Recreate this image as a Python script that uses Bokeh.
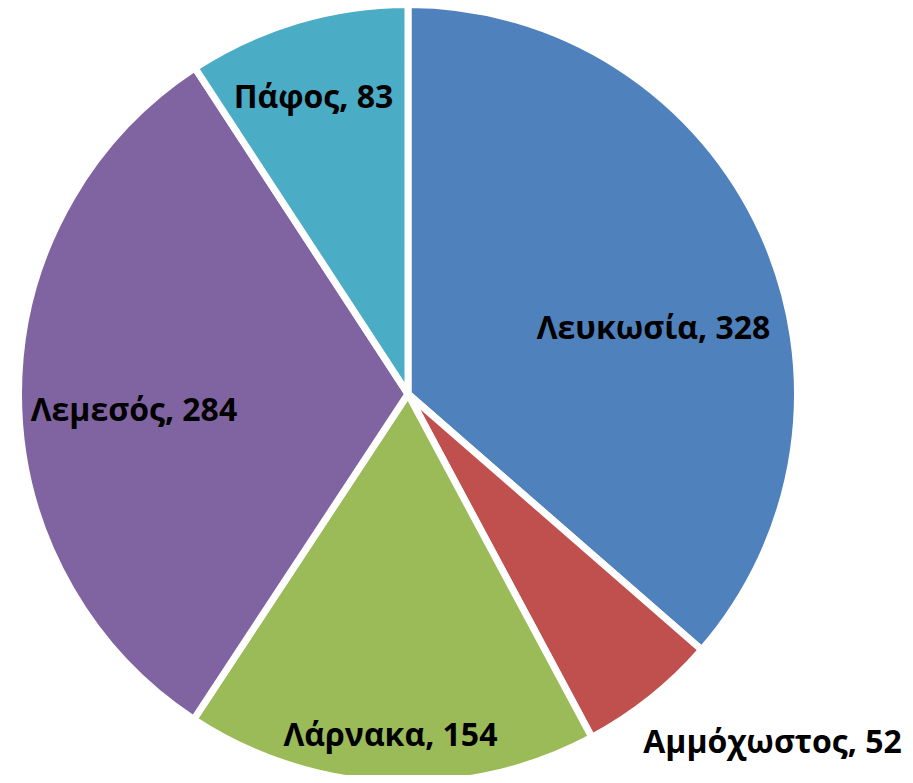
import math
from bokeh.plotting import figure
from bokeh.models import ColumnDataSource, Range1d
from bokeh.core.properties import value
from bokeh.embed import file_html
from bokeh.resources import INLINE

# ---- data ----
districts = ["Λευκωσία", "Αμμόχωστος", "Λάρνακα", "Λεμεσός", "Πάφος"]
counts = [328, 52, 154, 284, 83]
colors = ["#4F81BD", "#C0504D", "#9BBB59", "#8064A2", "#4BACC6"]

# ---- layout (picture pixel coordinates, y measured from top) ----
W, H = 905, 775
CX, CY, R = 407.5, 393.5, 389.5
# label anchors: (centre x, baseline y)
label_pos = [(653, 326), (772, 740), (390, 733), (133.5, 408), (313, 95)]
FONT = "Open Sans"
FONT_SIZE = "32px"

def to_y(page_y):
    return H - page_y

total = sum(counts)
starts, ends = [], []
cum = 0.0
for c in counts:
    a0 = cum / total * 2 * math.pi
    cum += c
    a1 = cum / total * 2 * math.pi
    starts.append(math.pi / 2 - a1)
    ends.append(math.pi / 2 - a0)

src = ColumnDataSource(dict(
    start=starts, end=ends, color=colors,
    x=[CX] * len(counts), y=[to_y(CY)] * len(counts),
))

labels = [f"{d}, {c}" for d, c in zip(districts, counts)]
lsrc = ColumnDataSource(dict(
    x=[p[0] for p in label_pos],
    y=[to_y(p[1]) for p in label_pos],
    text=labels,
))

p = figure(width=W, height=H, output_backend="svg", toolbar_location=None,
           x_range=Range1d(0, W), y_range=Range1d(0, H),
           min_border=0, outline_line_color=None, background_fill_color="white",
           border_fill_color="white")
p.axis.visible = False
p.grid.visible = False

p.wedge(x="x", y="y", radius=R, start_angle="start", end_angle="end",
        direction="anticlock", fill_color="color", line_color="white",
        line_width=7, source=src)

p.text(x="x", y="y", text="text", source=lsrc, text_align="center",
       text_baseline="alphabetic", text_font=value(FONT),
       text_font_style="bold", text_font_size=FONT_SIZE, text_color="black")

open("out.html", "w").write(file_html(p, INLINE))
